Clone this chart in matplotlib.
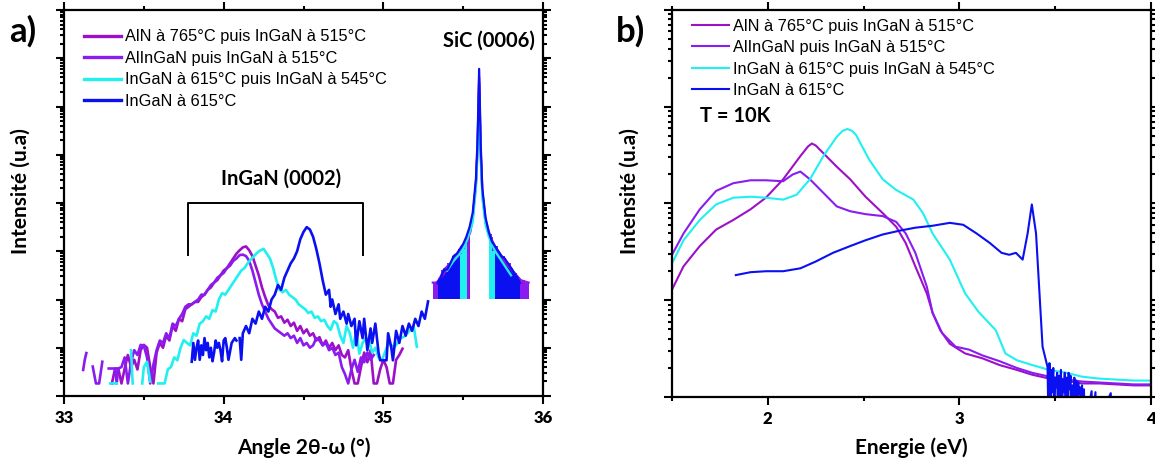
import numpy as np
import matplotlib
matplotlib.use("Agg")
import matplotlib.pyplot as plt
from matplotlib.ticker import MultipleLocator, LogLocator, NullFormatter

plt.rcParams['font.family'] = ['Liberation Sans', 'DejaVu Sans']

# --- series -------------------------------------------------------------
labels = ["AlN à 765°C puis InGaN à 515°C", "AlInGaN puis InGaN à 515°C",
          "InGaN à 615°C puis InGaN à 545°C", "InGaN à 615°C"]
colors = ["#9c10c8", "#8a1cf0", "#20f0f0", "#0a10f0"]

# a) DRX, pic InGaN (0002) : angle 2theta-omega (deg), log10(intensite)
nan = np.nan
xrd_aln_x = [33.30, 33.32, 33.34, 33.36, 33.38, 33.40, 33.42, 33.44, 33.46, 33.48,
             33.50, 33.52, 33.54, 33.56, 33.58, 33.60, 33.62, 33.64, 33.66, 33.68,
             33.70, 33.72, 33.74, 33.76, 33.78, 33.80, 33.82, 33.84, 33.86, 33.88,
             33.90, 33.92, 33.94, 33.96, 33.98, 34.00, 34.02, 34.04, 34.06, 34.08,
             34.10, 34.12, 34.14, 34.16, 34.18, 34.20, 34.22, 34.24, 34.26, 34.28,
             34.30, 34.32, 34.34, 34.36, 34.38, 34.40, 34.42, 34.44, 34.46, 34.48,
             34.50, 34.52, 34.54, 34.56, 34.58, 34.60, 34.62, 34.64, 34.66, 34.68,
             34.70, 34.72, 34.74, 34.76, 34.78, 34.80, 34.82, 34.84, 34.86, 34.88,
             34.90, 34.92, 34.94, 34.96, 34.98, 35.00, 35.02, 35.04, 35.06, 35.08,
             35.10, 35.12]
xrd_aln_y = [0.26, 0.57, 0.57, 0.26, 0.57, 0.85, 0.60, 0.75, 0.55, 0.95,
             1.06, 1.00, 0.60, 0.26, 0.90, 1.10, 1.00, 1.25, 1.15, 1.45,
             1.35, 1.60, 1.55, 1.80, 1.85, 1.90, 1.95, 1.95, 2.05, 2.10,
             2.20, 2.25, 2.35, 2.40, 2.50, 2.60, 2.65, 2.75, 2.85, 2.95,
             3.02, 3.08, 3.10, 3.02, 2.90, 2.70, 2.50, 2.25, 2.05, 1.88,
             1.80, 1.75, 1.62, 1.65, 1.52, 1.58, 1.45, 1.52, 1.35, 1.45,
             1.30, 1.38, 1.25, 1.30, 1.15, 1.22, 1.05, 1.15, 1.00, 1.10,
             0.95, 1.05, 0.85, 0.80, 0.95, 0.55, 0.26, 0.26, 0.60, 0.90,
             0.70, 0.95, 0.26, 0.26, 0.55, 0.75, 0.60, 0.26, 0.26, 0.75,
             0.85, 0.98]

xrd_alingan_x = [33.12, 33.13, 33.14, 33.16, 33.18, 33.20, 33.22, 33.24, 33.26, 33.28,
                 33.30, 33.32, 33.33, 33.34, 33.36, 33.38, 33.40, 33.42, 33.44, 33.46,
                 33.48, 33.50, 33.52, 33.54, 33.56, 33.58, 33.60, 33.62, 33.64, 33.66,
                 33.68, 33.70, 33.72, 33.74, 33.76, 33.78, 33.80, 33.82, 33.84, 33.86,
                 33.88, 33.90, 33.92, 33.94, 33.96, 33.98, 34.00, 34.02, 34.04, 34.06,
                 34.08, 34.10, 34.12, 34.14, 34.16, 34.18, 34.20, 34.22, 34.24, 34.26,
                 34.28, 34.30, 34.32, 34.34, 34.36, 34.38, 34.40, 34.42, 34.44, 34.46,
                 34.48, 34.50, 34.52, 34.54, 34.56, 34.58, 34.60, 34.62, 34.64, 34.66,
                 34.68, 34.70, 34.72, 34.74, 34.76, 34.78, 34.80, 34.82, 34.84, 34.86,
                 34.88, 34.90, 34.92, 34.94]
xrd_alingan_y = [0.54, 0.75, 0.89, nan, 0.61, 0.26, 0.26, 0.71, nan, 0.57,
                 0.57, 0.57, 0.26, 0.57, 0.60, 0.80, 0.26, 0.70, 0.95, 0.85,
                 1.06, 1.04, 0.80, 0.26, 0.65, 0.95, 1.15, 1.10, 1.30, 1.20,
                 1.50, 1.45, 1.60, 1.70, 1.85, 1.90, 1.90, 1.95, 2.00, 2.10,
                 2.10, 2.20, 2.30, 2.35, 2.45, 2.50, 2.55, 2.65, 2.70, 2.80,
                 2.85, 2.92, 2.93, 2.90, 2.80, 2.60, 2.35, 2.10, 1.90, 1.75,
                 1.60, 1.50, 1.40, 1.35, 1.30, 1.25, 1.30, 1.20, 1.25, 1.10,
                 1.20, 1.05, 1.10, 1.00, 1.05, 1.20, 1.15, 1.05, 1.10, 0.95,
                 1.00, 0.85, 0.90, 0.60, 0.45, 0.26, 0.55, 0.75, 0.50, 0.80,
                 0.70, 0.90, 0.75, 0.85]

xrd_ingan2_x = [33.29, 33.31, 33.33, 33.38, 33.42, 33.43, 33.46, 33.49, 33.50, 33.52,
                33.54, 33.57, 33.59, 33.61, 33.63, 33.65, 33.67, 33.69, 33.71, 33.73,
                33.75, 33.77, 33.79, 33.81, 33.83, 33.85, 33.87, 33.89, 33.91, 33.93,
                33.95, 33.97, 33.99, 34.01, 34.03, 34.05, 34.07, 34.09, 34.11, 34.13,
                34.15, 34.17, 34.19, 34.21, 34.23, 34.25, 34.27, 34.29, 34.31, 34.33,
                34.35, 34.37, 34.39, 34.41, 34.43, 34.45, 34.47, 34.49, 34.51, 34.53,
                34.55, 34.57, 34.59, 34.61, 34.63, 34.65, 34.67, 34.69, 34.71, 34.73,
                34.75, 34.77, 34.79, 34.81, 34.83, 34.85, 34.87, 34.89, 34.91, 34.93,
                34.95, 34.97, 34.99, 35.01, 35.03, 35.05, 35.07, 35.09, 35.11, 35.13,
                35.15, 35.17, 35.19, 35.21]
xrd_ingan2_y = [0.26, 0.26, 0.26, nan, 0.95, 0.26, nan, 0.26, 0.60, 0.71,
                0.30, nan, 0.26, 0.26, 0.26, 0.55, 0.60, 0.80, 0.74, 1.00,
                1.16, 1.10, 1.05, 1.30, 1.25, 1.50, 1.55, 1.65, 1.60, 1.78,
                1.75, 2.00, 2.13, 2.10, 2.20, 2.30, 2.40, 2.50, 2.60, 2.65,
                2.75, 2.83, 2.90, 2.97, 3.02, 3.05, 2.95, 2.85, 2.65, 2.40,
                2.20, 2.15, 2.20, 2.10, 2.05, 2.00, 1.90, 1.85, 1.80, 1.72,
                1.75, 1.62, 1.65, 1.55, 1.58, 1.45, 1.37, 1.55, 1.50, 1.25,
                1.10, 1.45, 1.30, 1.00, 1.35, 0.88, 1.10, 1.20, 1.16, 0.90,
                1.00, 0.80, 0.74, 0.90, 1.09, 1.05, 1.02, 1.10, 1.20, 1.23,
                1.30, 1.37, 1.45, 1.02]

xrd_ingan1_x = [33.80, 33.81, 33.82, 33.83, 33.84, 33.85, 33.86, 33.87, 33.88, 33.89,
                33.90, 33.91, 33.92, 33.93, 33.94, 33.95, 33.96, 33.97, 33.98, 33.99,
                34.00, 34.01, 34.02, 34.03, 34.05, 34.07, 34.08, 34.09, 34.10, 34.11,
                34.12, 34.14, 34.16, 34.18, 34.20, 34.22, 34.24, 34.26, 34.28, 34.30,
                34.32, 34.34, 34.36, 34.38, 34.40, 34.42, 34.44, 34.46, 34.48, 34.50,
                34.52, 34.54, 34.56, 34.58, 34.60, 34.62, 34.64, 34.66, 34.67, 34.68,
                34.70, 34.72, 34.73, 34.75, 34.77, 34.78, 34.80, 34.82, 34.83, 34.85,
                34.87, 34.88, 34.90, 34.92, 34.93, 34.95, 34.97, 34.98, 35.00, 35.02,
                35.03, 35.05, 35.06, 35.08, 35.10, 35.12, 35.14, 35.16, 35.18, 35.20,
                35.22, 35.24, 35.26, 35.28]
xrd_ingan1_y = [0.71, 1.10, 0.75, 1.00, 1.15, 0.75, 1.05, 0.85, 1.20, 0.95,
                1.10, 0.80, 1.00, 0.72, 0.90, 1.15, 1.00, 1.10, 0.95, 0.72,
                1.15, 1.20, 1.00, 0.75, 1.10, 1.20, 1.15, nan, 1.20, 0.75,
                1.30, 1.45, 1.30, 1.60, 1.50, 1.75, 1.60, 1.85, 1.75, 2.00,
                2.10, 2.30, 2.20, 2.45, 2.60, 2.75, 2.85, 3.00, 3.25, 3.40,
                3.50, 3.45, 3.30, 3.05, 2.75, 2.40, 2.10, 2.20, 1.85, 2.00,
                1.70, 1.90, 1.60, 1.75, 1.50, 1.70, 1.45, 1.60, 1.05, 1.55,
                1.20, 1.60, 0.95, 1.40, 1.10, 1.50, 0.90, 0.74, 0.74, 0.74,
                1.30, 1.00, 0.74, 1.35, 1.10, 1.45, 1.25, 1.50, 1.35, 1.60,
                1.45, 1.75, 1.60, 1.96]

# a) DRX, pic SiC (0006) : enveloppe (plancher de comptage a 10^2.02)
sic_floor = 2.02
sic_aln_x = [35.33, 35.36, 35.40, 35.44, 35.48, 35.52, 35.545, 35.56, 35.58, 35.59,
             35.60, 35.61, 35.62, 35.64, 35.66, 35.70, 35.74, 35.78, 35.82, 35.86, 35.88]
sic_aln_y = [2.34, 2.45, 2.62, 2.80, 2.95, 3.20, 3.40, 3.70, 4.40, 5.10,
             6.50, 5.00, 4.20, 3.60, 3.35, 3.05, 2.85, 2.70, 2.55, 2.40, 2.34]
sic_alingan_x = [35.31, 35.34, 35.38, 35.42, 35.46, 35.50, 35.535, 35.56, 35.58, 35.59,
                 35.60, 35.61, 35.62, 35.64, 35.67, 35.70, 35.74, 35.78, 35.82, 35.86, 35.91]
sic_alingan_y = [2.35, 2.35, 2.62, 2.75, 2.90, 3.10, 3.35, 3.70, 4.40, 5.20,
                 6.60, 5.10, 4.25, 3.65, 3.30, 3.10, 2.90, 2.75, 2.55, 2.40, 2.35]
sic_ingan2_x = [35.40, 35.44, 35.48, 35.50, 35.527, 35.56, 35.58, 35.59, 35.60, 35.61,
                35.62, 35.64, 35.66, 35.70, 35.74, 35.80]
sic_ingan2_y = [2.60, 2.80, 2.95, 3.05, 3.25, 3.60, 4.30, 5.00, 6.20, 4.90,
                4.10, 3.55, 3.30, 3.00, 2.80, 2.50]
sic_ingan1_x = [35.34, 35.36, 35.38, 35.40, 35.42, 35.44, 35.46, 35.48, 35.50, 35.52,
                35.54, 35.56, 35.58, 35.59, 35.60, 35.61, 35.62, 35.64, 35.66, 35.68,
                35.70, 35.72, 35.74, 35.76, 35.78, 35.80, 35.82, 35.84, 35.855]
sic_ingan1_y = [2.34, 2.45, 2.62, 2.62, 2.75, 2.90, 2.95, 3.05, 3.15, 3.30,
                3.50, 3.80, 4.50, 5.30, 6.78, 5.20, 4.30, 3.70, 3.40, 3.20,
                3.10, 3.00, 2.90, 2.85, 2.75, 2.65, 2.55, 2.45, 2.34]
# bords interieurs des zones bruitees (au-dela : comptage alterne avec le plancher)
sic_inner = [(35.545, 35.66), (35.535, 35.67), (35.527, 35.66), (35.49, 35.69)]

# b) PL a 10 K : energie (eV), log10(intensite)
pl_aln_x = [1.50, 1.56, 1.645, 1.73, 1.82, 1.91, 1.99, 2.08, 2.17, 2.21,
            2.23, 2.25, 2.29, 2.36, 2.43, 2.51, 2.60, 2.67, 2.72, 2.77,
            2.83, 2.86, 2.90, 2.95, 3.03, 3.12, 3.21, 3.30, 3.38, 3.47,
            3.56, 3.64, 3.73, 3.82, 3.91, 4.00]
pl_aln_y = [1.11, 1.35, 1.56, 1.73, 1.83, 1.94, 2.06, 2.25, 2.49, 2.59,
            2.62, 2.60, 2.52, 2.38, 2.25, 2.07, 1.90, 1.76, 1.59, 1.35,
            1.07, 0.87, 0.69, 0.55, 0.45, 0.40, 0.33, 0.28, 0.23, 0.19,
            0.165, 0.14, 0.14, 0.13, 0.12, 0.12]
pl_alingan_x = [1.50, 1.56, 1.645, 1.73, 1.82, 1.91, 1.99, 2.08, 2.13, 2.17,
                2.22, 2.29, 2.36, 2.43, 2.51, 2.60, 2.67, 2.72, 2.77, 2.83,
                2.86, 2.91, 2.98, 3.05, 3.12, 3.21, 3.30, 3.38, 3.47, 3.56,
                3.64, 3.73, 3.82, 3.91, 4.00]
pl_alingan_y = [1.47, 1.69, 1.94, 2.13, 2.21, 2.24, 2.24, 2.23, 2.30, 2.33,
                2.25, 2.11, 1.97, 1.92, 1.89, 1.87, 1.81, 1.69, 1.49, 1.14,
                0.87, 0.66, 0.52, 0.49, 0.43, 0.37, 0.30, 0.25, 0.21, 0.18,
                0.16, 0.15, 0.14, 0.13, 0.13]
pl_ingan2_x = [1.50, 1.56, 1.645, 1.73, 1.82, 1.91, 1.99, 2.08, 2.15, 2.22,
               2.29, 2.36, 2.39, 2.415, 2.44, 2.46, 2.53, 2.60, 2.67, 2.76,
               2.81, 2.86, 2.95, 3.03, 3.10, 3.19, 3.24, 3.30, 3.38, 3.47,
               3.56, 3.64, 3.73, 3.82, 3.91, 4.00]
pl_ingan2_y = [1.38, 1.62, 1.83, 1.99, 2.06, 2.07, 2.06, 2.04, 2.09, 2.25,
               2.49, 2.69, 2.75, 2.77, 2.75, 2.71, 2.45, 2.25, 2.14, 2.04,
               1.90, 1.69, 1.42, 1.07, 0.88, 0.69, 0.45, 0.38, 0.33, 0.28,
               0.25, 0.21, 0.19, 0.18, 0.17, 0.17]
pl_ingan1_x = [1.833, 1.91, 1.99, 2.08, 2.17, 2.25, 2.34, 2.43, 2.51, 2.60,
               2.69, 2.77, 2.86, 2.95, 3.02, 3.09, 3.16, 3.22, 3.26, 3.295,
               3.33, 3.356, 3.378, 3.40, 3.416, 3.434, 3.46, 3.465, 3.47, 3.475,
               3.48, 3.485, 3.49, 3.495, 3.50, 3.505, 3.51, 3.515, 3.52, 3.525,
               3.53, 3.535, 3.54, 3.545, 3.55, 3.555, 3.56, 3.565, 3.57, 3.575,
               3.58, 3.585, 3.59, 3.595, 3.60, 3.605, 3.61, 3.615, 3.62, 3.625,
               3.63, 3.635, 3.64, 3.645, 3.65, 3.655, 3.69, 3.695, 3.71, 3.715,
               3.79, 3.795]
pl_ingan1_y = [1.26, 1.29, 1.30, 1.30, 1.33, 1.40, 1.49, 1.56, 1.62, 1.68,
               1.72, 1.75, 1.77, 1.80, 1.78, 1.69, 1.59, 1.49, 1.47, 1.49,
               1.42, 1.69, 1.99, 1.69, 1.14, 0.52, 0.31, -0.3, 0.35, -0.3,
               0.28, 0.05, 0.30, -0.3, 0.20, 0.10, 0.25, -0.3, 0.22, 0.02,
               0.28, -0.3, 0.18, 0.05, 0.25, -0.3, 0.20, -0.3, 0.25, 0.08,
               0.22, -0.3, 0.12, 0.02, 0.20, -0.3, 0.17, -0.3, 0.15, 0.03,
               0.10, -0.3, 0.12, -0.3, 0.08, -0.3, 0.06, -0.3, 0.05, -0.3,
               0.04, -0.3]

xrd_x = [xrd_aln_x, xrd_alingan_x, xrd_ingan2_x, xrd_ingan1_x]
xrd_y = [xrd_aln_y, xrd_alingan_y, xrd_ingan2_y, xrd_ingan1_y]
sic_x = [sic_aln_x, sic_alingan_x, sic_ingan2_x, sic_ingan1_x]
sic_y = [sic_aln_y, sic_alingan_y, sic_ingan2_y, sic_ingan1_y]
pl_x = [pl_aln_x, pl_alingan_x, pl_ingan2_x, pl_ingan1_x]
pl_y = [pl_aln_y, pl_alingan_y, pl_ingan2_y, pl_ingan1_y]

xrd_ticks = [33, 34, 35, 36]
pl_ticks = [2, 3, 4]

BOLD = dict(family=['Lato', 'Liberation Serif'], weight='bold')
W, H = 1155, 463


def style_axes(ax, ticks):
    ax.set_yscale('log')
    for s in ax.spines.values():
        s.set_linewidth(1.6)
    ax.set_xticks(ticks, [str(t) for t in ticks])
    ax.xaxis.set_minor_locator(MultipleLocator(0.5))
    ax.tick_params(which='both', direction='out', top=True, right=True, width=1.5)
    ax.tick_params(which='major', length=6, pad=4)
    ax.tick_params(which='minor', length=3)
    ax.yaxis.set_major_locator(LogLocator(base=10, numticks=20))
    ax.yaxis.set_minor_locator(LogLocator(base=10, subs=np.arange(2, 10), numticks=20))
    ax.yaxis.set_major_formatter(NullFormatter())
    ax.yaxis.set_minor_formatter(NullFormatter())


def bold_ticklabels(ax):
    for lab in ax.get_xticklabels():
        lab.set_fontfamily(BOLD['family'])
        lab.set_fontweight('heavy')
        lab.set_fontsize(12)


fig = plt.figure(figsize=(W / 100, H / 100), dpi=100)
axa = fig.add_axes([64 / W, (H - 396) / H, 479 / W, 386 / H])
axb = fig.add_axes([672 / W, (H - 397) / H, 479 / W, 387 / H])

# ---- a) DRX
for i in range(4):
    axa.plot(xrd_x[i], 10 ** np.array(xrd_y[i]), color=colors[i], lw=1.9, label=labels[i])
for i in range(4):
    sx = np.array(sic_x[i])
    sy = 10 ** np.array(sic_y[i])
    lo, hi = sic_inner[i]
    noisy = (sx <= lo) | (sx >= hi)
    axa.fill_between(sx, 10 ** sic_floor, sy, where=noisy, step='mid', color=colors[i], lw=0)
    axa.plot(sx, sy, color=colors[i], lw=1.6)

axa.set_xlim(33, 36)
axa.set_ylim(1, 1e8)
style_axes(axa, xrd_ticks)

# crochet InGaN (0002)
axa.plot([33.775, 33.775, 34.875, 34.875], [10 ** 2.93, 1e4, 1e4, 10 ** 2.93], color='black', lw=1.4)
axa.text(34.36, 10 ** 4.5, "InGaN (0002)", ha='center', va='center', fontsize=14.5, **BOLD)
axa.text(0.982, 0.92, "SiC (0006)", transform=axa.transAxes, ha='right', va='center', fontsize=14.5, **BOLD)

axa.legend(loc='upper left', bbox_to_anchor=(0.041, 0.95), frameon=False, fontsize=11.8,
           handlelength=2.25, handletextpad=0.25, labelspacing=0.4, borderpad=0, borderaxespad=0)
for ln in axa.get_legend().get_lines():
    ln.set_linewidth(2.4)

# ---- b) PL
for i in range(4):
    axb.plot(pl_x[i], 10 ** np.array(pl_y[i]), color=colors[i], lw=1.5, label=labels[i])
axb.set_xlim(1.5, 4)
axb.set_ylim(1, 1e4)
style_axes(axb, pl_ticks)
axb.text(700 / W, 1 - 116 / H, "T = 10K", transform=fig.transFigure, ha='left', va='center',
         fontsize=14.5, **BOLD)
axb.legend(loc='upper left', bbox_to_anchor=(0.042, 0.978), frameon=False, fontsize=11.8,
           handlelength=2.25, handletextpad=0.25, labelspacing=0.4, borderpad=0, borderaxespad=0)

bold_ticklabels(axa)
bold_ticklabels(axb)

# ---- textes de la figure
fig.text(9 / W, 1 - 31 / H, "a)", ha='left', va='center', fontsize=25, **BOLD)
fig.text(616 / W, 1 - 31 / H, "b)", ha='left', va='center', fontsize=25, **BOLD)
fig.text(21 / W, 1 - 191 / H, "Intensité (u.a)", rotation=90, ha='center', va='center', fontsize=15, **BOLD)
fig.text(630 / W, 1 - 191 / H, "Intensité (u.a)", rotation=90, ha='center', va='center', fontsize=15, **BOLD)
fig.text(304 / W, 1 - 448 / H, "Angle 2θ-ω (°)", ha='center', va='center', fontsize=15, **BOLD)
fig.text(911 / W, 1 - 448 / H, "Energie (eV)", ha='center', va='center', fontsize=15, **BOLD)

fig.savefig("out.png", dpi=100)
